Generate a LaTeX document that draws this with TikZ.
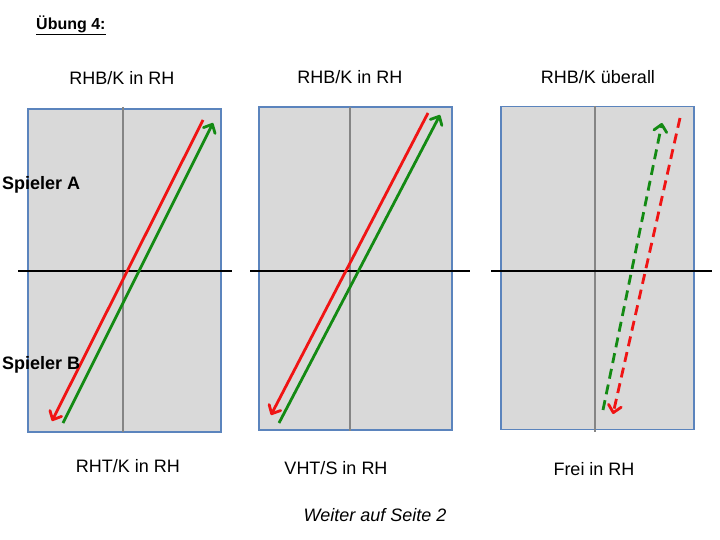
\documentclass[tikz,border=0pt]{standalone}
\usepackage{fontspec}
\setmainfont{Liberation Sans}
\usetikzlibrary{arrows.meta, calc}
\definecolor{cField}{HTML}{D9D9D9}
\definecolor{cEdge}{HTML}{5B84BD}
\definecolor{cMid}{HTML}{858585}
\definecolor{cRed}{HTML}{F01414}
\definecolor{cGreen}{HTML}{138A13}

\begin{document}
\begin{tikzpicture}[x=1pt, y=-1pt,
  field/.style={draw=cEdge, fill=cField, line width=1.4pt, minimum width=193pt, minimum height=323pt, inner sep=0pt},
  midline/.style={cMid, line width=2pt},
  net/.style={black, line width=1.8pt},
  lbl/.style={font=\fontsize{18pt}{21pt}\selectfont, inner sep=0pt},
  hit/.style={line width=2.8pt, -{Straight Barb[length=7pt, width=13pt, round]}},
  hitdash/.style={hit, dash pattern=on 10pt off 6pt}
]
\useasboundingbox (0,0) rectangle (720,540);

% title
\node[lbl, font=\bfseries\fontsize{16pt}{19pt}\selectfont, anchor=west] (title) at (36,25) {\underline{Übung 4:}};

% the three fields
\node[field] (f1) at (124.5,270.5) {};
\node[field] (f2) at (355.5,268.5) {};
\node[field] (f3) at (597.5,268) {};

% middle lines and nets
\draw[midline] (123,107) -- (123,432);
\draw[midline] (350,107) -- (350,431);
\draw[midline] (595,106) -- (595,432);
\draw[net] (18,271) -- (232,271);
\draw[net] (250,271) -- (470,271);
\draw[net] (491,271) -- (712,271);

% strokes
\coordinate (r1a) at (203,120); \coordinate (r1b) at (52,421);
\coordinate (g1a) at (63,423);  \coordinate (g1b) at (213,123);
\coordinate (r2a) at (428,113); \coordinate (r2b) at (271,415);
\coordinate (g2a) at (279,423); \coordinate (g2b) at (440,115);
\coordinate (r3a) at (680,118); \coordinate (r3b) at (613,414);
\coordinate (g3a) at (603,410); \coordinate (g3b) at (662,123);
\draw[hit, cRed] (r1a) -- (r1b);
\draw[hit, cGreen] (g1a) -- (g1b);
\draw[hit, cRed] (r2a) -- (r2b);
\draw[hit, cGreen] (g2a) -- (g2b);
\draw[hitdash, cGreen] (g3a) -- (g3b);
\draw[hitdash, cRed] (r3a) -- (r3b);

% labels
\node[lbl] (top1) at (122,78) {RHB/K in RH};
\node[lbl] (top2) at (350,77) {RHB/K in RH};
\node[lbl] (top3) at (598,77) {RHB/K überall};
\node[lbl] (bot1) at (128,466) {RHT/K in RH};
\node[lbl] (bot2) at (336,468) {VHT/S in RH};
\node[lbl] (bot3) at (594,469) {Frei in RH};
\node[lbl, font=\bfseries\fontsize{18pt}{21pt}\selectfont, anchor=west] (spA) at (2,185) {Spieler A};
\node[lbl, font=\bfseries\fontsize{18pt}{21pt}\selectfont, anchor=west] (spB) at (2,365) {Spieler B};
\node[lbl, font=\itshape\fontsize{18pt}{21pt}\selectfont] (next) at (375,515) {Weiter auf Seite 2};
\end{tikzpicture}
\end{document}
